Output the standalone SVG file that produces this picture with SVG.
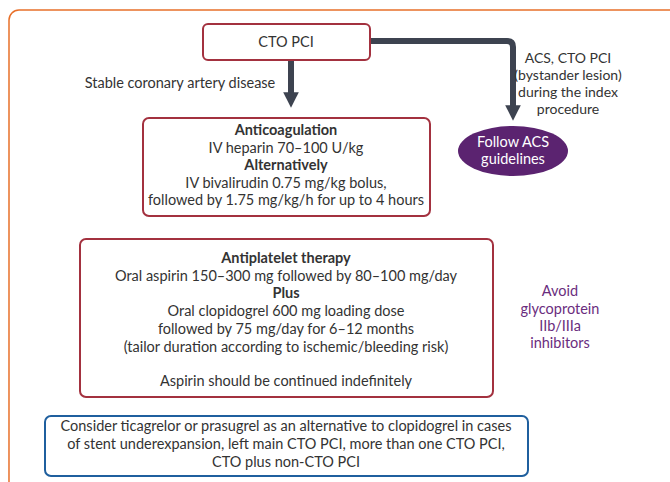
<svg xmlns="http://www.w3.org/2000/svg" width="670" height="482" viewBox="0 0 670 482">
<defs>
<style>
text{font-family:Lato,"Open Sans","Liberation Sans",sans-serif;font-size:14.5px;fill:#333;text-anchor:middle}
.b{font-weight:bold}
.p{fill:#6a2d7e}
.w{fill:#fff}
.s{font-size:14px}
.red{fill:#fff;stroke:#a3313f;stroke-width:2}
.conn{fill:none;stroke:#3d4350;stroke-width:6}
</style>
<marker id="ah" viewBox="0 0 10 10" refX="5" refY="5" markerWidth="3.2" markerHeight="2.6" orient="auto" markerUnits="strokeWidth">
<path d="M0,0L10,5L0,10z" fill="#3d4350"/>
</marker>
</defs>
<rect width="670" height="482" fill="#fff"/>
<rect x="9" y="10" width="700" height="500" rx="10" fill="none" stroke="#e8702a" stroke-width="1.5"/>
<g id="connectors">
<line class="conn" x1="291" y1="61" x2="291" y2="100" marker-end="url(#ah)"/>
<path class="conn" d="M370,41H507Q513,41 513,47V113" marker-end="url(#ah)"/>
<text x="180" y="88">Stable coronary artery disease</text>
<text class="s" x="568" y="63">ACS, CTO PCI</text>
<text class="s" x="568" y="80">(bystander lesion)</text>
<text class="s" x="568" y="97">during the index</text>
<text class="s" x="568" y="114">procedure</text>
</g>
<g id="cto">
<rect class="red" x="203" y="24" width="167" height="36" rx="5"/>
<text x="286" y="47">CTO PCI</text>
</g>
<g id="acs">
<ellipse cx="513" cy="151" rx="55" ry="25" fill="#5b2370"/>
<text class="w" x="513" y="147">Follow ACS</text>
<text class="w" x="513" y="164">guidelines</text>
</g>
<g id="anticoag">
<rect class="red" x="143" y="118" width="287" height="98" rx="6"/>
<text class="b" x="286" y="135">Anticoagulation</text>
<text x="286" y="153">IV heparin 70–100 U/kg</text>
<text class="b" x="286" y="170">Alternatively</text>
<text x="286" y="188">IV bivalirudin 0.75 mg/kg bolus,</text>
<text x="286" y="205">followed by 1.75 mg/kg/h for up to 4 hours</text>
</g>
<g id="antiplatelet">
<rect class="red" x="80" y="239" width="413" height="158" rx="6"/>
<text class="b" x="286" y="263">Antiplatelet therapy</text>
<text x="286" y="281">Oral aspirin 150–300 mg followed by 80–100 mg/day</text>
<text class="b" x="286" y="298">Plus</text>
<text x="286" y="316">Oral clopidogrel 600 mg loading dose</text>
<text x="286" y="334">followed by 75 mg/day for 6–12 months</text>
<text x="286" y="352">(tailor duration according to ischemic/bleeding risk)</text>
<text x="286" y="386">Aspirin should be continued indefinitely</text>
</g>
<g id="avoid">
<text class="p" x="560" y="296">Avoid</text>
<text class="p" x="560" y="314">glycoprotein</text>
<text class="p" x="560" y="331">IIb/IIIa</text>
<text class="p" x="560" y="348">inhibitors</text>
</g>
<g id="alt">
<rect x="45" y="416" width="483" height="60" rx="6" fill="#fff" stroke="#1f5f9e" stroke-width="2"/>
<text x="286" y="431">Consider ticagrelor or prasugrel as an alternative to clopidogrel in cases</text>
<text x="286" y="449">of stent underexpansion, left main CTO PCI, more than one CTO PCI,</text>
<text x="286" y="467">CTO plus non-CTO PCI</text>
</g>
</svg>
